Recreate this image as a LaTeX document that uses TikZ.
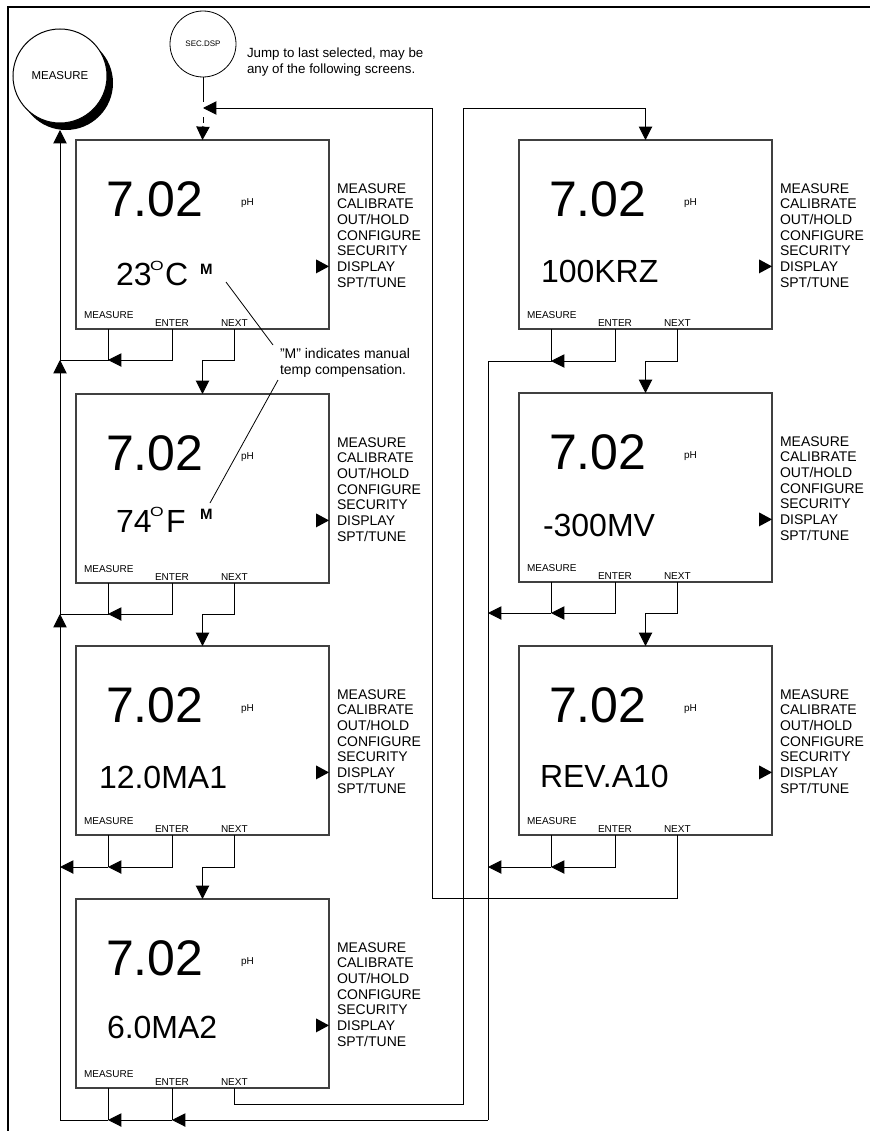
\documentclass[tikz,border=0pt]{standalone}
\usepackage{fontspec}
\usepackage{graphicx}
\setmainfont{Liberation Sans}
\usetikzlibrary{arrows.meta}
\tikzset{
  scr/.style={draw=black!75, line width=1pt, minimum width=189.75pt, minimum height=141.75pt, inner sep=0pt, outer sep=0pt, anchor=north west},
  txt/.style={anchor=base west, inner sep=0pt, outer sep=0pt},
  big/.style={txt, font=\fontsize{37.5}{37.5}\selectfont},
  secline/.style={txt, font=\fontsize{24}{24}\selectfont},
  deg/.style={txt, font=\fontsize{10.5}{10.5}\selectfont},
  mflag/.style={txt, font=\fontsize{11.25}{11.25}\selectfont\bfseries},
  menu/.style={txt, font=\fontsize{10.5}{11.75}\selectfont},
  btn/.style={txt, font=\fontsize{7.5}{7.5}\selectfont},
  phs/.style={txt, font=\fontsize{7.5}{7.5}\selectfont},
  notetxt/.style={txt, font=\fontsize{10.5}{10.5}\selectfont},
  jumptxt/.style={txt, font=\fontsize{10}{10}\selectfont},
  con/.style={line width=0.75pt},
  arr/.style={-{Triangle[length=10pt,width=10pt]}},
}
\newcommand\screen[3]{%
  \node[scr] (#1) at (#2,#3) {};
  \node[big] (#1big) at ({#2+30},{#3+76}) {7.02};
  \node[phs] (#1ph) at ({#2+165},{#3+65}) {pH};
  \foreach \t [count=\i] in {MEASURE,CALIBRATE,OUT/HOLD,CONFIGURE,SECURITY,DISPLAY,SPT/TUNE}
    \node[menu] (#1m\i) at ({#2+261},{#3+53+(\i-1)*15.67}) {\t};
  \fill ({#2+253},{#3+126.4}) -- ++(-13,-7) -- ++(0,14) -- cycle;
  \node[btn] (#1bm) at ({#2+8},{#3+178}) {MEASURE};
  \node[btn] (#1be) at ({#2+79},{#3+186.5}) {ENTER};
  \node[btn] (#1bn) at ({#2+145},{#3+186}) {NEXT};
  \coordinate (#1M) at ({#2+32},{#3+189});
  \coordinate (#1E) at ({#2+96},{#3+189});
  \coordinate (#1N) at ({#2+158},{#3+189});
  \coordinate (#1T) at ({#2+126.5},{#3});
}
\begin{document}
\begin{tikzpicture}[x=0.75pt,y=-0.75pt]
\useasboundingbox (0,0) rectangle (870,1131);
% frame
\coordinate (fA) at (8,1131); \coordinate (fB) at (8,7); \coordinate (fC) at (870,7);
\draw[line width=1.2pt] (fA) -- (fB) -- (fC);

% screens
\screen{La}{76}{140}
\screen{Lb}{76}{394}
\screen{Lc}{76}{646}
\screen{Ld}{76}{899}
\screen{Ra}{519}{140}
\screen{Rb}{519}{393}
\screen{Rc}{519}{646}

% second lines
\node[secline] (La2) at (116,285) {23};
\node[deg] (La2o) at (150,270) {\scalebox{1.25}[0.95]{O}};
\node[secline] (La2c) at (165,285) {C};
\node[mflag] (LaMf) at (200,274) {M};
\node[secline] (Lb2) at (116,532) {74};
\node[deg] (Lb2o) at (150,516) {\scalebox{1.25}[0.95]{O}};
\node[secline] (Lb2f) at (166,532) {F};
\node[mflag] (LbMf) at (200,519) {M};
\node[secline] (Lc2) at (99,788) {12.0MA1};
\node[secline] (Ld2) at (107,1038) {6.0MA2};
\node[secline] (Ra2) at (541,282) {100KRZ};
\node[secline] (Rb2) at (543,536) {-300MV};
\node[secline] (Rc2) at (540,787) {REV.A10};

% note
\node[notetxt] (note1) at (280,358) {\symbol{34}M\symbol{34} indicates manual};
\node[notetxt] (note2) at (280,374) {temp compensation.};
\coordinate (ld1a) at (226,282); \coordinate (ld1b) at (273,345);
\coordinate (ld2a) at (278,380); \coordinate (ld2b) at (210,503);
\draw[line width=0.6pt] (ld1a) -- (ld1b);
\draw[line width=0.6pt] (ld2a) -- (ld2b);

% top circles
\fill (66,83) circle[radius=35.25pt];
\node[circle, draw, fill=white, line width=0.75pt, minimum size=70.5pt, inner sep=0pt, font=\fontsize{8.6}{8.6}\selectfont] (meas) at (60,76) {MEASURE};
\node[circle, draw, line width=0.6pt, minimum size=49.5pt, inner sep=0pt, font=\fontsize{6}{6}\selectfont] (secdsp) at (203,44) {SEC.DSP};
\node[jumptxt] (jump1) at (247,58) {Jump to last selected, may be};
\node[jumptxt] (jump2) at (247,74) {any of the following screens.};

% top connectors
\coordinate (stemEnd) at (203,102);
\draw[con] (secdsp) -- (stemEnd);
\coordinate (jL) at (203,108);
\coordinate (wrapA) at (432,898);
\draw[con,arr] (RcN) |- (wrapA) |- (jL);
\coordinate (dA) at (203,117); \coordinate (dB) at (203,123); \coordinate (dC) at (203,126);
\draw[con] (dA) -- (dB);
\draw[con,arr] (dC) -- (LaT);
\coordinate (wrapB) at (463,1104);
\coordinate (topB) at (463,108);
\draw[con,arr] (LdN) |- (wrapB) -- (topB) -| (RaT);

% left column
\coordinate (mcb) at (60,130);
\coordinate (LaMj) at (108,360); \coordinate (LaLj) at (60,360); \coordinate (LaNj) at (234,360);
\draw[con,arr] (LaE) |- (LaMj);
\draw[con] (LaM) -- (LaMj) -- (LaLj);
\draw[con,arr] (LaLj) -- (mcb);
\draw[con,arr] (LaN) -- (LaNj) -| (LbT);

\coordinate (LbMj) at (108,614); \coordinate (LbLj) at (60,614); \coordinate (LbNj) at (234,614);
\draw[con,arr] (LbE) |- (LbMj);
\draw[con] (LbM) -- (LbMj) -- (LbLj);
\draw[con,arr] (LbLj) -- (LaLj);
\draw[con,arr] (LbN) -- (LbNj) -| (LcT);

\coordinate (LcMj) at (108,867); \coordinate (LcLj) at (60,867); \coordinate (LcNj) at (234,867);
\draw[con,arr] (LcE) |- (LcMj);
\draw[con] (LcM) -- (LcMj);
\draw[con,arr] (LcMj) -- (LcLj);
\draw[con,arr] (LcLj) -- (LbLj);
\draw[con,arr] (LcN) -- (LcNj) -| (LdT);

\coordinate (LdMj) at (108,1120); \coordinate (LdEj) at (172,1120); \coordinate (LdLj) at (60,1120);
\coordinate (RB) at (488,1120);
\draw[con] (LdM) -- (LdMj);
\draw[con] (LdE) -- (LdEj);
\draw[con,arr] (RB) -- (LdEj);
\draw[con,arr] (LdEj) -- (LdMj);
\draw[con] (LdMj) -- (LdLj) -- (LcLj);

% right column
\coordinate (RaMj) at (551,361); \coordinate (RaLj) at (488,361); \coordinate (RaNj) at (677,361);
\draw[con,arr] (RaE) |- (RaMj);
\draw[con] (RaM) -- (RaMj) -- (RaLj) -- (RB);
\draw[con,arr] (RaN) -- (RaNj) -| (RbT);

\coordinate (RbMj) at (551,613); \coordinate (RbLj) at (488,613); \coordinate (RbNj) at (677,613);
\draw[con,arr] (RbE) |- (RbMj);
\draw[con] (RbM) -- (RbMj);
\draw[con,arr] (RbMj) -- (RbLj);
\draw[con,arr] (RbN) -- (RbNj) -| (RcT);

\coordinate (RcMj) at (551,867); \coordinate (RcLj) at (488,867);
\draw[con,arr] (RcE) |- (RcMj);
\draw[con] (RcM) -- (RcMj);
\draw[con,arr] (RcMj) -- (RcLj);
\end{tikzpicture}
\end{document}
